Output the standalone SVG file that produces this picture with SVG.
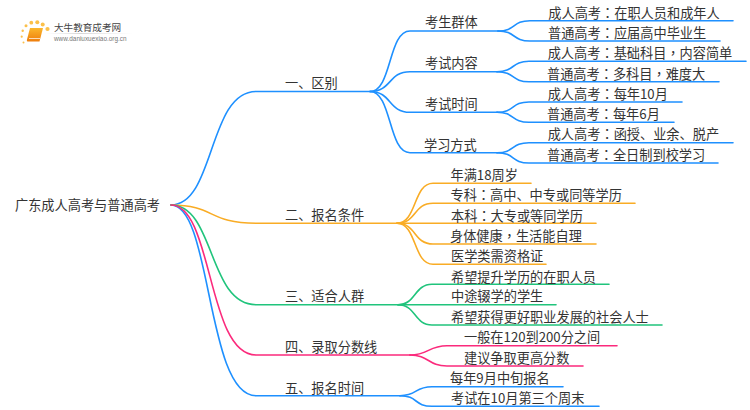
<svg xmlns="http://www.w3.org/2000/svg" width="750" height="410" viewBox="0 0 750 410">
<style>
text{font-family:"Noto Sans CJK SC","Noto Sans",sans-serif;font-size:13.2px;fill:#333}
tspan.t{font-family:"Noto Sans CJK TC","Noto Sans",sans-serif}
.c path{fill:none;stroke-width:1.6;stroke-linecap:round}
.b path{stroke:#1e90ff}.o path{stroke:#f9ac25}.g path{stroke:#20c47c}.p path{stroke:#fb2a7c}
</style>
<defs>
<linearGradient id="bk" x1="0" y1="0" x2="0" y2="1"><stop offset="0" stop-color="#fbb72c"/><stop offset="1" stop-color="#ee7d0c"/></linearGradient>
<linearGradient id="rl" x1="0" y1="0" x2="1" y2="0"><stop offset="0" stop-color="#ddd" stop-opacity="0"/><stop offset=".4" stop-color="#ccc"/><stop offset="1" stop-color="#ddd" stop-opacity="0"/></linearGradient>
</defs>
<rect width="750" height="410" fill="#fff"/>
<g id="logo">
<g fill="#fbc04a"><circle cx="22.7" cy="30.7" r="1.2"/><circle cx="21.7" cy="36.7" r="1.1"/><circle cx="23.5" cy="42.5" r="1"/><circle cx="26" cy="25.7" r="1.5"/><circle cx="31.3" cy="22.7" r="1.9"/><circle cx="37.3" cy="22.3" r="2"/><circle cx="42.7" cy="24.5" r="2"/><circle cx="47.5" cy="29" r="2.1"/></g>
<path d="M30,28H43L39.500,41.500H27.500Q26.500,41.500 27,39.500Z" fill="url(#bk)"/>
<path d="M29,38.500H40" stroke="#fff" stroke-width=".7" fill="none"/>
<text x="54" y="30.500" style="font-size:9.6px;fill:#444">大牛教育成考网</text>
<rect x="45" y="33" width="88" height=".8" fill="url(#rl)"/>
<text x="54" y="41" style="font-family:'Liberation Sans',sans-serif;font-size:6.400px;fill:#777">www.daniuxuexiao.org.cn</text>
</g>
<g id="connectors" class="c">
<g class="b">
<path d="M171,205C215,205 208,91.500 256,91.500H370"/>
<path d="M370,91.500C392,91.500 388,31 410,31H498"/>
<path d="M370,91.500C392,91.500 388,71.700 410,71.700H497"/>
<path d="M370,91.500C392,91.500 388,112.300 410,112.300H497"/>
<path d="M370,91.500C392,91.500 388,152.700 410,152.700H497"/>
<path d="M498,31C516,31 512,20.700 530,20.700H733"/>
<path d="M498,31C516,31 512,41 530,41H720"/>
<path d="M497,71.700C515,71.700 511,61.300 529,61.300H746"/>
<path d="M497,71.700C515,71.700 511,81.700 529,81.700H719"/>
<path d="M497,112.300C515,112.300 511,102 529,102H682"/>
<path d="M497,112.300C515,112.300 511,122.300 529,122.300H674"/>
<path d="M497,152.700C515,152.700 511,142.700 529,142.700H733"/>
<path d="M497,152.700C515,152.700 511,163 529,163H718"/>
<path d="M171,205C212,205 206,395.700 256,395.700H400"/>
<path d="M400,395.700C418,395.700 414,386.700 432,386.700H563"/>
<path d="M400,395.700C418,395.700 414,406.300 432,406.300H599"/>
</g>
<g class="o">
<path d="M171,205C215,205 208,223.300 256,223.300H397"/>
<path d="M397,223.300C417,223.300 413,183.300 433,183.300H531"/>
<path d="M397,223.300C417,223.300 413,203.300 433,203.300H635"/>
<path d="M397,223.300H596"/>
<path d="M397,223.300C417,223.300 413,244 433,244H596"/>
<path d="M397,223.300C417,223.300 413,264.300 433,264.300H546"/>
</g>
<g class="g">
<path d="M171,205C215,205 208,304.700 256,304.700H398"/>
<path d="M398,304.700C416,304.700 414,284.300 432,284.300H609"/>
<path d="M398,304.700H556"/>
<path d="M398,304.700C416,304.700 414,325 432,325H662"/>
</g>
<g class="p">
<path d="M171,205C213,205 207,355 256,355H410"/>
<path d="M410,355C429,355 428,345.700 447,345.700H617"/>
<path d="M410,355C429,355 428,366 447,366H583"/>
</g>
</g>
<g id="root"><text x="15" y="209.700">广东成人高考与普通高考</text></g>
<g id="n1"><text x="285" y="88">一、区别</text></g>
<g id="n1-1"><text x="425" y="27.400">考生群体</text></g>
<g id="n1-1-1"><text x="548.300" y="18">成人高考<tspan class="t">：</tspan>在职人员和成年人</text></g>
<g id="n1-1-2"><text x="548" y="38">普通高考<tspan class="t">：</tspan>应届高中毕业生</text></g>
<g id="n1-2"><text x="425" y="68">考试内容</text></g>
<g id="n1-2-1"><text x="547.700" y="58">成人高考<tspan class="t">：</tspan>基础科目<tspan class="t">，</tspan>内容简单</text></g>
<g id="n1-2-2"><text x="547" y="78.700">普通高考<tspan class="t">：</tspan>多科目<tspan class="t">，</tspan>难度大</text></g>
<g id="n1-3"><text x="425" y="108.700">考试时间</text></g>
<g id="n1-3-1"><text x="547.700" y="99.400">成人高考<tspan class="t">：</tspan>每年10月</text></g>
<g id="n1-3-2"><text x="547" y="118.700">普通高考<tspan class="t">：</tspan>每年6月</text></g>
<g id="n1-4"><text x="424" y="149.700">学习方式</text></g>
<g id="n1-4-1"><text x="547.700" y="139.400">成人高考<tspan class="t">：</tspan>函授、业余、脱产</text></g>
<g id="n1-4-2"><text x="547" y="159.700">普通高考<tspan class="t">：</tspan>全日制到校学习</text></g>
<g id="n2"><text x="285" y="220.400">二、报名条件</text></g>
<g id="n2-1"><text x="450.500" y="179.700">年满18周岁</text></g>
<g id="n2-2"><text x="450.500" y="199.700">专科<tspan class="t">：</tspan>高中、中专或同等学历</text></g>
<g id="n2-3"><text x="451" y="220.700">本科<tspan class="t">：</tspan>大专或等同学历</text></g>
<g id="n2-4"><text x="450" y="240.700">身体健康<tspan class="t">，</tspan>生活能自理</text></g>
<g id="n2-5"><text x="451" y="261.200">医学类需资格证</text></g>
<g id="n3"><text x="285" y="301.400">三、适合人群</text></g>
<g id="n3-1"><text x="451" y="281.700">希望提升学历的在职人员</text></g>
<g id="n3-2"><text x="451" y="301.400">中途辍学的学生</text></g>
<g id="n3-3"><text x="451" y="322.400">希望获得更好职业发展的社会人士</text></g>
<g id="n4"><text x="285" y="352.400">四、录取分数线</text></g>
<g id="n4-1"><text x="464" y="342.400">一般在120到200分之间</text></g>
<g id="n4-2"><text x="464" y="362.700">建议争取更高分数</text></g>
<g id="n5"><text x="285" y="392.700">五、报名时间</text></g>
<g id="n5-1"><text x="450" y="382.700">每年9月中旬报名</text></g>
<g id="n5-2"><text x="451" y="402.700">考试在10月第三个周末</text></g>
</svg>
